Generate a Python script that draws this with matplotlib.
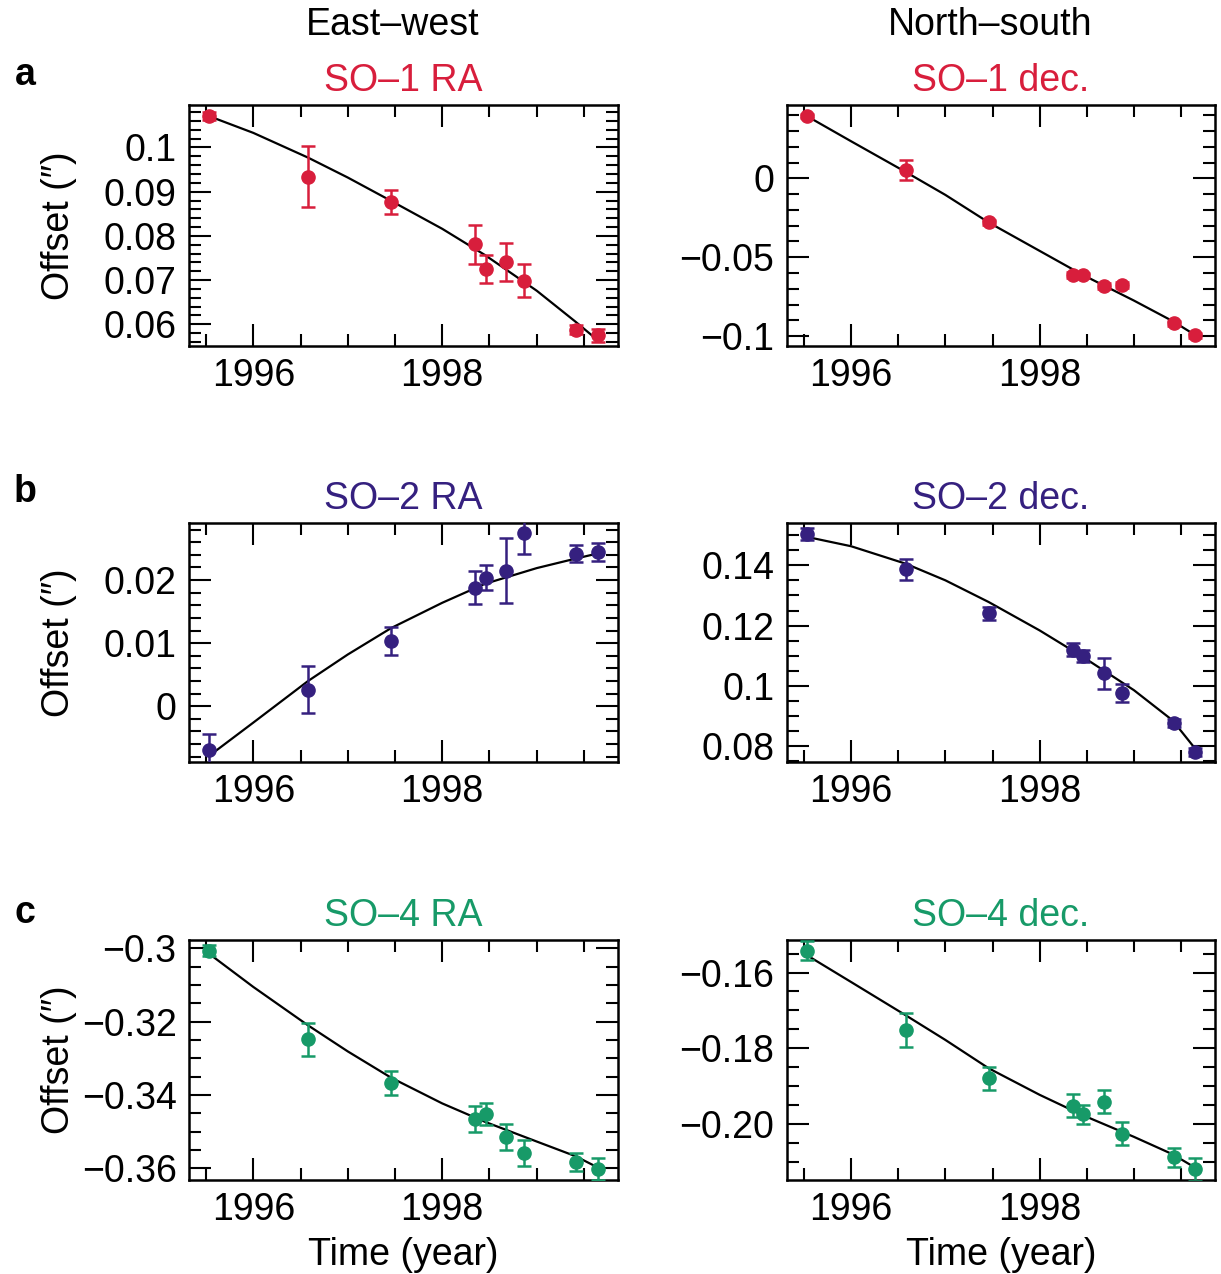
import matplotlib
matplotlib.use("Agg")
import matplotlib.pyplot as plt
from matplotlib.ticker import MultipleLocator

plt.rcParams['font.family'] = ['Liberation Sans', 'DejaVu Sans']

# observation epochs (same for every panel)
t = [1995.53, 1996.58, 1997.46, 1998.35, 1998.46, 1998.68, 1998.87, 1999.42, 1999.65]
fit_t = [1995.53, 1996.0, 1996.58, 1997.0, 1997.46, 1998.0, 1998.45, 1999.0, 1999.41, 1999.64]

# SO-1
so1_ra = [0.1071, 0.0934, 0.0876, 0.0781, 0.0725, 0.0741, 0.0699, 0.0588, 0.0575]
so1_ra_err = [0.0010, 0.0069, 0.0027, 0.0044, 0.0031, 0.0043, 0.0037, 0.0010, 0.0014]
so1_ra_fit = [0.1071, 0.1033, 0.0977, 0.0932, 0.0879, 0.0816, 0.0757, 0.0676, 0.0606, 0.0565]
so1_dec = [0.0395, 0.0053, -0.0279, -0.0614, -0.0614, -0.0683, -0.0677, -0.0920, -0.0995]
so1_dec_err = [0.0015, 0.0065, 0.0015, 0.0020, 0.0015, 0.0020, 0.0020, 0.0015, 0.0015]
so1_dec_fit = [0.0395, 0.0235, 0.0040, -0.0105, -0.0280, -0.0460, -0.0610, -0.0775, -0.0905, -0.0990]

# SO-2
so2_ra = [-0.00695, 0.00264, 0.0103, 0.0188, 0.0204, 0.0215, 0.0274, 0.0242, 0.0245]
so2_ra_err = [0.0025, 0.0037, 0.0022, 0.0026, 0.0020, 0.0051, 0.0032, 0.0014, 0.0014]
so2_ra_fit = [-0.0079, -0.0026, 0.0040, 0.0082, 0.0124, 0.0164, 0.0194, 0.0219, 0.0234, 0.0242]
so2_dec = [0.1505, 0.1386, 0.1241, 0.1120, 0.1099, 0.1042, 0.0976, 0.0877, 0.0781]
so2_dec_err = [0.0020, 0.0035, 0.0022, 0.0022, 0.0020, 0.0052, 0.0030, 0.0012, 0.0012]
so2_dec_fit = [0.1494, 0.1463, 0.1405, 0.1350, 0.1278, 0.1184, 0.1098, 0.0986, 0.0886, 0.0796]

# SO-4
so4_ra = [-0.3006, -0.3248, -0.3368, -0.3466, -0.3452, -0.3514, -0.3559, -0.3582, -0.3603]
so4_ra_err = [0.0015, 0.0045, 0.0033, 0.0035, 0.0030, 0.0035, 0.0035, 0.0025, 0.0030]
so4_ra_fit = [-0.3014, -0.3105, -0.3210, -0.3281, -0.3353, -0.3423, -0.3473, -0.3527, -0.3567, -0.3597]
so4_dec = [-0.1542, -0.1751, -0.1879, -0.1952, -0.1974, -0.1941, -0.2026, -0.2088, -0.2120]
so4_dec_err = [0.0025, 0.0045, 0.0030, 0.0030, 0.0025, 0.0030, 0.0030, 0.0025, 0.0030]
so4_dec_fit = [-0.1554, -0.1625, -0.1713, -0.1778, -0.1853, -0.1923, -0.1976, -0.2034, -0.2080, -0.2114]

xticks = [1996, 1998]
xticklabels = ["1996", "1998"]

red = '#d81e3c'
purple = '#35207f'
green = '#179a68'

W, H = 1221, 1274
fig = plt.figure(figsize=(W / 100, H / 100), dpi=100)

def px_axes(x0, y0, x1, y1):
    return fig.add_axes([x0 / W, 1 - y1 / H, (x1 - x0) / W, (y1 - y0) / H])

panels = [
    ((189, 105, 618, 346), "SO–1 RA", red, so1_ra, so1_ra_err, so1_ra_fit,
     (0.0551, 0.1096), [0.06, 0.07, 0.08, 0.09, 0.1], ["0.06", "0.07", "0.08", "0.09", "0.1"], 0.002),
    ((787, 105, 1215, 346), "SO–1 dec.", red, so1_dec, so1_dec_err, so1_dec_fit,
     (-0.1063, 0.0465), [-0.1, -0.05, 0], ["−0.1", "−0.05", "0"], 0.01),
    ((189, 523, 618, 762), "SO–2 RA", purple, so2_ra, so2_ra_err, so2_ra_fit,
     (-0.00884, 0.02905), [0, 0.01, 0.02], ["0", "0.01", "0.02"], 0.002),
    ((787, 523, 1215, 762), "SO–2 dec.", purple, so2_dec, so2_dec_err, so2_dec_fit,
     (0.0748, 0.154), [0.08, 0.1, 0.12, 0.14], ["0.08", "0.1", "0.12", "0.14"], 0.005),
    ((189, 940, 618, 1180), "SO–4 RA", green, so4_ra, so4_ra_err, so4_ra_fit,
     (-0.3632, -0.2977), [-0.36, -0.34, -0.32, -0.3], ["−0.36", "−0.34", "−0.32", "−0.3"], 0.005),
    ((787, 940, 1215, 1180), "SO–4 dec.", green, so4_dec, so4_dec_err, so4_dec_fit,
     (-0.2148, -0.1514), [-0.20, -0.18, -0.16], ["−0.20", "−0.18", "−0.16"], 0.005),
]

for i, (box, title, col, vals, err, fit, ylim, yt, ytl, yminor) in enumerate(panels):
    ax = px_axes(*box)
    ax.plot(fit_t, fit, color='black', lw=1.6, zorder=2)
    ax.errorbar(t, vals, yerr=err, fmt='o', color=col, ms=9.5, elinewidth=1.8,
                capsize=5, capthick=1.8, zorder=3)
    ax.set_xlim(1995.32, 1999.86)
    ax.set_ylim(*ylim)
    ax.set_xticks(xticks)
    ax.set_xticklabels(xticklabels)
    ax.xaxis.set_minor_locator(MultipleLocator(0.5))
    ax.set_yticks(yt)
    ax.set_yticklabels(ytl)
    ax.yaxis.set_minor_locator(MultipleLocator(yminor))
    ax.tick_params(which='both', direction='in', top=True, right=True, width=1.5,
                   labelsize=27, pad=9)
    ax.tick_params(which='major', length=16)
    ax.tick_params(which='minor', length=8.5)
    for s in ax.spines.values():
        s.set_linewidth(1.8)
    cx = (box[0] + box[2]) / 2
    fig.text(cx / W, 1 - (box[1] - 24) / H, title, color=col, fontsize=27,
             ha='center', va='center')
    if i % 2 == 0:
        ax.set_ylabel("Offset (″)", fontsize=27)
        ax.yaxis.set_label_coords(-0.262, 0.5)
    if i >= 4:
        ax.set_xlabel("Time (year)", fontsize=27, labelpad=6)

fig.text(393 / W, 1 - 25 / H, "East–west", fontsize=27, ha='center', va='center')
fig.text(990 / W, 1 - 25 / H, "North–south", fontsize=27, ha='center', va='center')
for letter, y in [("a", 75), ("b", 492), ("c", 913)]:
    fig.text(25 / W, 1 - y / H, letter, fontsize=27, fontweight='heavy',
             ha='center', va='center')

plt.savefig("out.png", dpi=100)
